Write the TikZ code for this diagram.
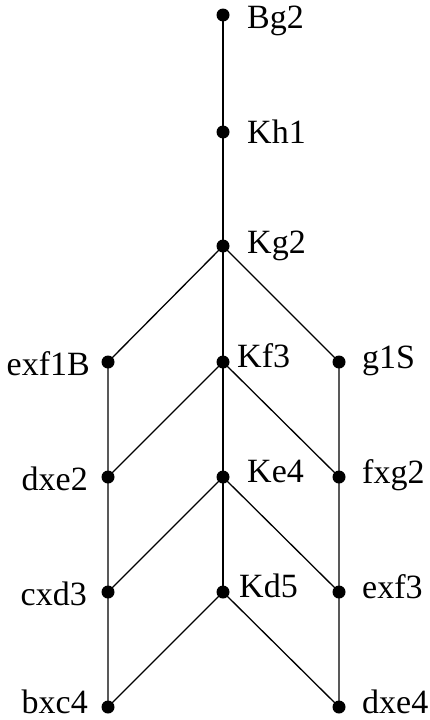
\documentclass[tikz,border=0pt]{standalone}
\usepackage{fontspec}
\setmainfont{Liberation Serif}
\begin{document}
\begin{tikzpicture}[x=1pt,y=-1pt,
  dot/.style={circle,fill=black,inner sep=0pt,minimum size=13pt},
  lbl/.style={inner sep=0pt,font=\fontsize{34}{36}\selectfont},
  rl/.style={lbl,anchor=base west},
  ll/.style={lbl,anchor=base east},
  edge/.style={line width=1.3pt}]
\useasboundingbox (0,0) rectangle (430,720);
% dots
\node[dot] (Bg2) at (223,15) {};
\node[dot] (Kh1) at (223,132) {};
\node[dot] (Kg2) at (223,246) {};
\node[dot] (exf1B) at (108,362) {};
\node[dot] (Kf3) at (223,362) {};
\node[dot] (g1S) at (339,362) {};
\node[dot] (dxe2) at (108,477) {};
\node[dot] (Ke4) at (223,477) {};
\node[dot] (fxg2) at (339,477) {};
\node[dot] (cxd3) at (108,592) {};
\node[dot] (Kd5) at (223,592) {};
\node[dot] (exf3) at (339,592) {};
\node[dot] (bxc4) at (108,707) {};
\node[dot] (dxe4) at (339,707) {};
% edges
\draw[edge] (Bg2.center) -- (Kh1.center) -- (Kg2.center) -- (Kf3.center) -- (Ke4.center) -- (Kd5.center);
\draw[edge] (Kg2.center) -- (exf1B.center) -- (dxe2.center) -- (cxd3.center) -- (bxc4.center);
\draw[edge] (Kg2.center) -- (g1S.center) -- (fxg2.center) -- (exf3.center) -- (dxe4.center);
\draw[edge] (Kf3.center) -- (dxe2.center);
\draw[edge] (Kf3.center) -- (fxg2.center);
\draw[edge] (Ke4.center) -- (cxd3.center);
\draw[edge] (Ke4.center) -- (exf3.center);
\draw[edge] (Kd5.center) -- (bxc4.center);
\draw[edge] (Kd5.center) -- (dxe4.center);
% labels
\node[rl] (lBg2) at (247,28) {Bg2};
\node[rl] (lKh1) at (247,143) {Kh1};
\node[rl] (lKg2) at (247,253) {Kg2};
\node[ll] (lexf1B) at (90,375) {exf1B};
\node[rl] (lKf3) at (237,367) {Kf3};
\node[rl] (lg1S) at (362,368) {g1S};
\node[ll] (ldxe2) at (88,490) {dxe2};
\node[rl] (lKe4) at (247,482) {Ke4};
\node[rl] (lfxg2) at (362,483) {fxg2};
\node[ll] (lcxd3) at (87,605) {cxd3};
\node[rl] (lKd5) at (239,597) {Kd5};
\node[rl] (lexf3) at (362,598) {exf3};
\node[ll] (lbxc4) at (88,713) {bxc4};
\node[rl] (ldxe4) at (362,713) {dxe4};
\end{tikzpicture}
\end{document}
